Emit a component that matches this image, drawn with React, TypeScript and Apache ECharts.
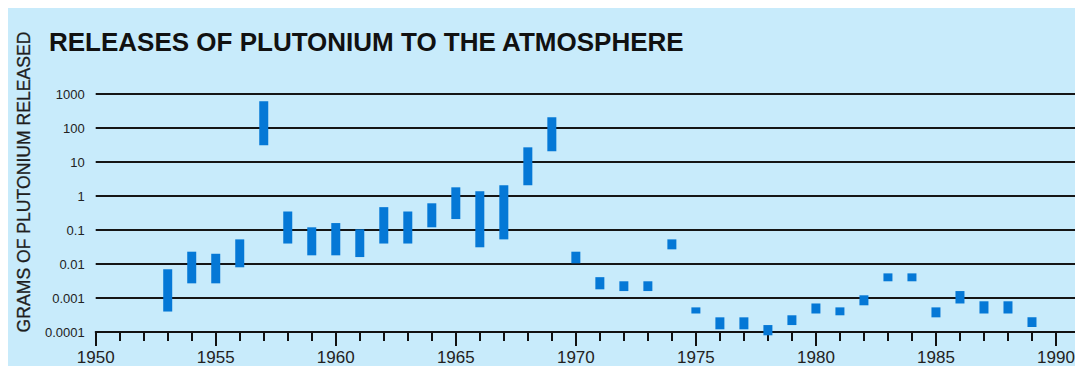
import React, { useEffect, useRef } from "react";
import * as echarts from "echarts";

const years = [1953, 1954, 1955, 1956, 1957, 1958, 1959, 1960, 1961, 1962, 1963, 1964, 1965, 1966, 1967, 1968, 1969, 1970, 1971, 1972, 1973, 1974, 1975, 1976, 1977, 1978, 1979, 1980, 1981, 1982, 1983, 1984, 1985, 1986, 1987, 1988, 1989];
const lowValues = [0.0004, 0.0027, 0.0027, 0.008, 31, 0.04, 0.018, 0.018, 0.016, 0.04, 0.04, 0.12, 0.21, 0.031, 0.053, 2.07, 20.7, 0.0105, 0.0018, 0.0016, 0.0016, 0.027, 0.00035, 0.00012, 0.00012, 0.00008, 0.00016, 0.00035, 0.00031, 0.00061, 0.0031, 0.0031, 0.00027, 0.00069, 0.00035, 0.00035, 0.00014];
const highValues = [0.007, 0.023, 0.02, 0.053, 610, 0.35, 0.12, 0.16, 0.105, 0.47, 0.35, 0.61, 1.8, 1.38, 2.07, 27, 207, 0.023, 0.0041, 0.0031, 0.0031, 0.053, 0.00053, 0.00027, 0.00027, 0.00016, 0.00031, 0.00069, 0.00053, 0.0012, 0.0053, 0.0053, 0.00053, 0.0016, 0.0008, 0.0008, 0.00027];
const yTickLabels = ["0.0001", "0.001", "0.01", "0.1", "1", "10", "100", "1000"];
const xMajorTicks = [1950, 1955, 1960, 1965, 1970, 1975, 1980, 1985, 1990];
const xMinorTicks = [1951, 1952, 1953, 1954, 1956, 1957, 1958, 1959, 1961, 1962, 1963, 1964, 1966, 1967, 1968, 1969, 1971, 1972, 1973, 1974, 1976, 1977, 1978, 1979, 1981, 1982, 1983, 1984, 1986, 1987, 1988, 1989];

const FONT = "'Liberation Sans', Arial, Helvetica, sans-serif";

export default function App() {
  const ref = useRef<HTMLDivElement>(null);
  useEffect(() => {
    if (!ref.current) return;
    const chart = echarts.init(ref.current, undefined, { renderer: "svg" });
    const data = years.map((y, i) => [y, lowValues[i], highValues[i]]);
    chart.setOption({
      animation: false,
      backgroundColor: "#c8ebfb",
      title: {
        text: "RELEASES OF PLUTONIUM TO THE ATMOSPHERE",
        left: 36,
        top: 16,
        textStyle: { fontFamily: FONT, fontSize: 26, fontWeight: "bold", color: "#111" },
      },
      graphic: [
        {
          type: "text",
          x: 16,
          y: 174,
          rotation: Math.PI / 2,
          style: {
            text: "GRAMS OF PLUTONIUM RELEASED",
            fontFamily: FONT,
            fontSize: 17.6,
            fill: "#1e1e1e",
            stroke: "#1e1e1e",
            lineWidth: 0.3,
            align: "center",
            verticalAlign: "middle",
          },
        },
      ],
      grid: { left: 87.7, right: 3, top: 86, bottom: 33.7, containLabel: false },
      xAxis: [
        {
          type: "value",
          min: 1950,
          max: 1991,
          axisLine: { show: true, onZero: false, lineStyle: { color: "#111", width: 2 } },
          axisTick: { show: true, customValues: xMajorTicks, length: 14, lineStyle: { color: "#111", width: 2 } },
          axisLabel: {
            customValues: xMajorTicks,
            margin: 17,
            fontFamily: FONT,
            fontSize: 17,
            color: "#222",
            formatter: (v: number) => String(v),
          },
          splitLine: { show: false },
        },
        {
          type: "value",
          min: 1950,
          max: 1991,
          position: "bottom",
          axisLine: { show: false },
          axisTick: { show: true, customValues: xMinorTicks, length: 9, lineStyle: { color: "#111", width: 2 } },
          axisLabel: { show: false },
          splitLine: { show: false },
        },
      ],
      yAxis: {
        type: "log",
        logBase: 10,
        min: 0.0001,
        max: 1000,
        axisLine: { show: false },
        axisTick: { show: false },
        splitLine: { show: true, lineStyle: { color: "#151515", width: 2 } },
        axisLabel: {
          margin: 11,
          fontFamily: FONT,
          fontSize: 13,
          color: "#222",
          formatter: (v: number) => yTickLabels[Math.round(Math.log10(v)) + 4] ?? "",
        },
      },
      series: [
        {
          type: "custom",
          clip: false,
          xAxisIndex: 0,
          yAxisIndex: 0,
          encode: { x: 0, y: [1, 2] },
          data,
          renderItem: (params: any, api: any) => {
            const x = api.value(0);
            const top = api.coord([x, api.value(2)]);
            const bottom = api.coord([x, api.value(1)]);
            return {
              type: "rect",
              shape: { x: top[0] - 4.5, y: top[1], width: 9, height: bottom[1] - top[1] },
              style: { fill: "#0578d6" },
            };
          },
        },
      ],
    });
    return () => chart.dispose();
  }, []);
  return <div ref={ref} style={{ width: 1075, height: 358 }} />;
}
